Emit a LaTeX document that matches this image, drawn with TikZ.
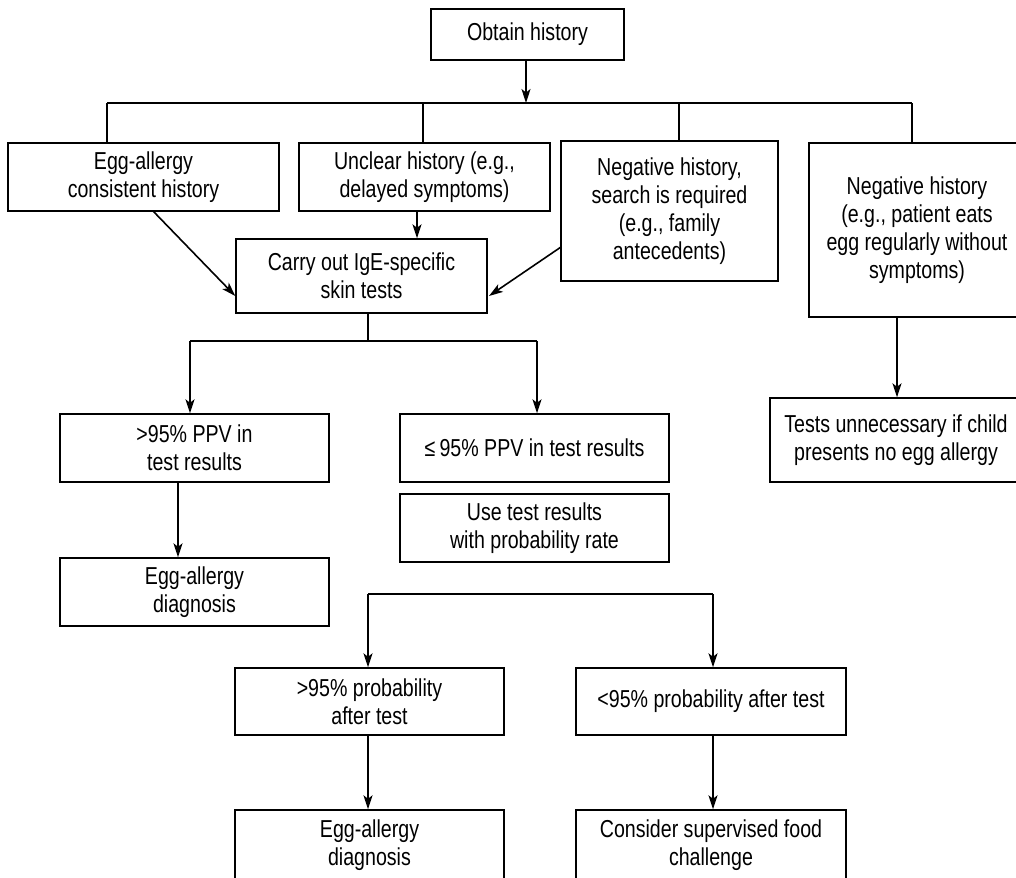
\documentclass[tikz,border=0pt]{standalone}
\usepackage{fontspec}
\setmainfont[FakeStretch=0.8]{Liberation Sans}
\usetikzlibrary{arrows.meta}
\tikzset{
  box/.style={draw, line width=1.4bp, inner sep=0pt, align=center, font=\fontsize{24.5bp}{28bp}\selectfont},
  arr/.style={line width=1.6bp, -{Stealth[length=14bp,width=9bp,inset=3.5bp]}},
  ln/.style={line width=1.5bp},
  bus/.style={line width=2.4bp}
}
\newcommand{\bx}[6]{\node[box, minimum width={(#4-#2)*1bp}, minimum height={(#5-#3)*1bp}] (#1) at ({(#2+#4)/2},{(#3+#5)/2}) {#6};}
\begin{document}
\begin{tikzpicture}[x=1bp,y=-1bp]
\useasboundingbox (0,0) rectangle (1016,878);
\clip (0,0) rectangle (1016,878);
\fill[white] (0,0) rectangle (1016,878);
\bx{obtain}{431}{9}{624}{60}{Obtain history}
\bx{b1}{8}{143}{279}{211}{Egg-allergy\\consistent history}
\bx{b2}{299}{143}{550}{211}{Unclear history (e.g.,\\delayed symptoms)}
\bx{b3}{561}{141}{778}{281}{Negative history,\\search is required\\(e.g., family\\antecedents)}
\bx{b4}{809}{143}{1025}{317}{Negative history\\(e.g., patient eats\\egg regularly without\\symptoms)}
\bx{carry}{236}{239}{487}{313}{Carry out IgE-specific\\skin tests}
\bx{ppv1}{60}{414}{329}{482}{>95\% PPV in\\test results}
\bx{ppv2}{400}{414}{669}{482}{≤\,95\% PPV in test results}
\bx{use}{400}{494}{669}{562}{Use test results\\with probability rate}
\bx{tests}{770}{398}{1022}{482}{Tests unnecessary if child\\presents no egg allergy}
\bx{diag1}{60}{558}{329}{626}{Egg-allergy\\diagnosis}
\bx{prob1}{235}{668}{504}{735}{>95\% probability\\after test}
\bx{prob2}{576}{668}{846}{735}{<95\% probability after test}
\bx{diag2}{235}{810}{504}{880}{Egg-allergy\\diagnosis}
\bx{food}{576}{810}{846}{880}{Consider supervised food\\challenge}
% top bus
\coordinate (busL) at (107,103);
\coordinate (busR) at (912,103);
\coordinate (busM) at (526,103);
\draw[arr] (obtain.south -| busM) -- (busM);
\draw[bus] (busL) -- (busR);
\draw[ln] (busL) -- (busL |- b1.north);
\draw[ln] (423,103) coordinate (d2) -- (d2 |- b2.north);
\draw[ln] (679,103) coordinate (d3) -- (d3 |- b3.north);
\draw[ln] (busR) -- (busR |- b4.north);
% into carry
\coordinate (c1) at (153,211);
\coordinate (c2) at (417,211);
\coordinate (c3) at (561,247);
\draw[arr] (c1) -- (carry.west |- 0,296);
\draw[arr] (c2) -- (c2 |- carry.north);
\draw[arr] (c3) -- (489,296);
% carry to ppv
\coordinate (m1) at (368,341);
\coordinate (p1) at (190,341);
\coordinate (p2) at (537,341);
\draw[ln] (carry.south -| m1) -- (m1);
\draw[bus] (p1) -- (p2);
\draw[arr] (p1) -- (p1 |- ppv1.north);
\draw[arr] (p2) -- (p2 |- ppv2.north);
% b4 to tests
\coordinate (t1) at (897,317);
\draw[arr] (t1) -- (t1 |- tests.north);
% ppv1 to diag1
\coordinate (q1) at (178,482);
\draw[arr] (q1) -- (q1 |- diag1.north);
% lower bus
\coordinate (r1) at (368,594);
\coordinate (r2) at (713,594);
\draw[bus] (r1) -- (r2);
\draw[arr] (r1) -- (r1 |- prob1.north);
\draw[arr] (r2) -- (r2 |- prob2.north);
\draw[arr] (prob1.south -| r1) -- (r1 |- diag2.north);
\draw[arr] (prob2.south -| r2) -- (r2 |- food.north);
\end{tikzpicture}
\end{document}
